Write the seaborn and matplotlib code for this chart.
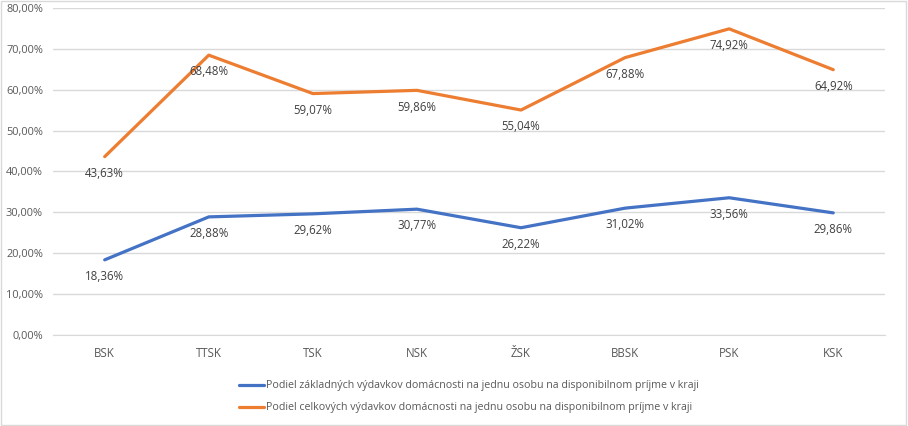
import pandas as pd
import numpy as np
import matplotlib
matplotlib.use("Agg")
import matplotlib.pyplot as plt
import seaborn as sns

regions = ["BSK", "TTSK", "TSK", "NSK", "ŽSK", "BBSK", "PSK", "KSK"]
basic = [18.36, 28.88, 29.62, 30.77, 26.22, 31.02, 33.56, 29.86]
total = [43.63, 68.48, 59.07, 59.86, 55.04, 67.88, 74.92, 64.92]
name_basic = "Podiel základných výdavkov domácnosti na jednu osobu na disponibilnom príjme v kraji"
name_total = "Podiel celkových výdavkov domácnosti na jednu osobu na disponibilnom príjme v kraji"

df = pd.DataFrame({
    "kraj": regions * 2,
    "hodnota": basic + total,
    "seria": [name_basic] * len(regions) + [name_total] * len(regions),
})

sns.set_style("white")
plt.rcParams["font.family"] = ["Open Sans", "DejaVu Sans"]
grey = "#595959"

fig = plt.figure(figsize=(9.08, 4.26), dpi=100)
ax = fig.add_axes([0.058, 0.214, 0.917, 0.767])
palette = {name_basic: "#4472C4", name_total: "#ED7D31"}
sns.lineplot(data=df, x="kraj", y="hodnota", hue="seria", palette=palette,
             linewidth=2.3, sort=False, ax=ax)

for i, r in df.iterrows():
    x = regions.index(r["kraj"])
    ax.annotate(f"{r['hodnota']:.2f}%".replace(".", ","), (x, r["hodnota"]),
                xytext=(0, -12), textcoords="offset points", ha="center", va="center",
                fontsize=8.3, color="#404040")

ax.set_xlim(-0.5, len(regions) - 0.5)
ax.set_ylim(0, 80)
ax.set_yticks(np.arange(0, 81, 10))
ax.set_yticklabels([f"{v:.2f}%".replace(".", ",") for v in np.arange(0, 81, 10)])
ax.grid(axis="y", color="#d9d9d9", linewidth=1)
ax.set_axisbelow(True)
for s in ["top", "right", "left"]:
    ax.spines[s].set_visible(False)
ax.spines["bottom"].set_color("#d9d9d9")
ax.tick_params(axis="both", length=0, labelsize=8.3, colors=grey)
ax.tick_params(axis="x", pad=9)
ax.tick_params(axis="y", pad=7, labelsize=7.9)
ax.set_xlabel("")
ax.set_ylabel("")

ax.legend(loc="upper center", bbox_to_anchor=(0.5, -0.11), frameon=False,
          fontsize=7.65, labelcolor=grey, handlelength=2.4, handletextpad=0.15,
          ncol=1, labelspacing=1.05)

fig.patches.append(plt.Rectangle((0.001, 0.002), 0.997, 0.995, transform=fig.transFigure,
                                 fill=False, edgecolor="#d9d9d9", linewidth=1))
fig.savefig("out.png", dpi=100)
